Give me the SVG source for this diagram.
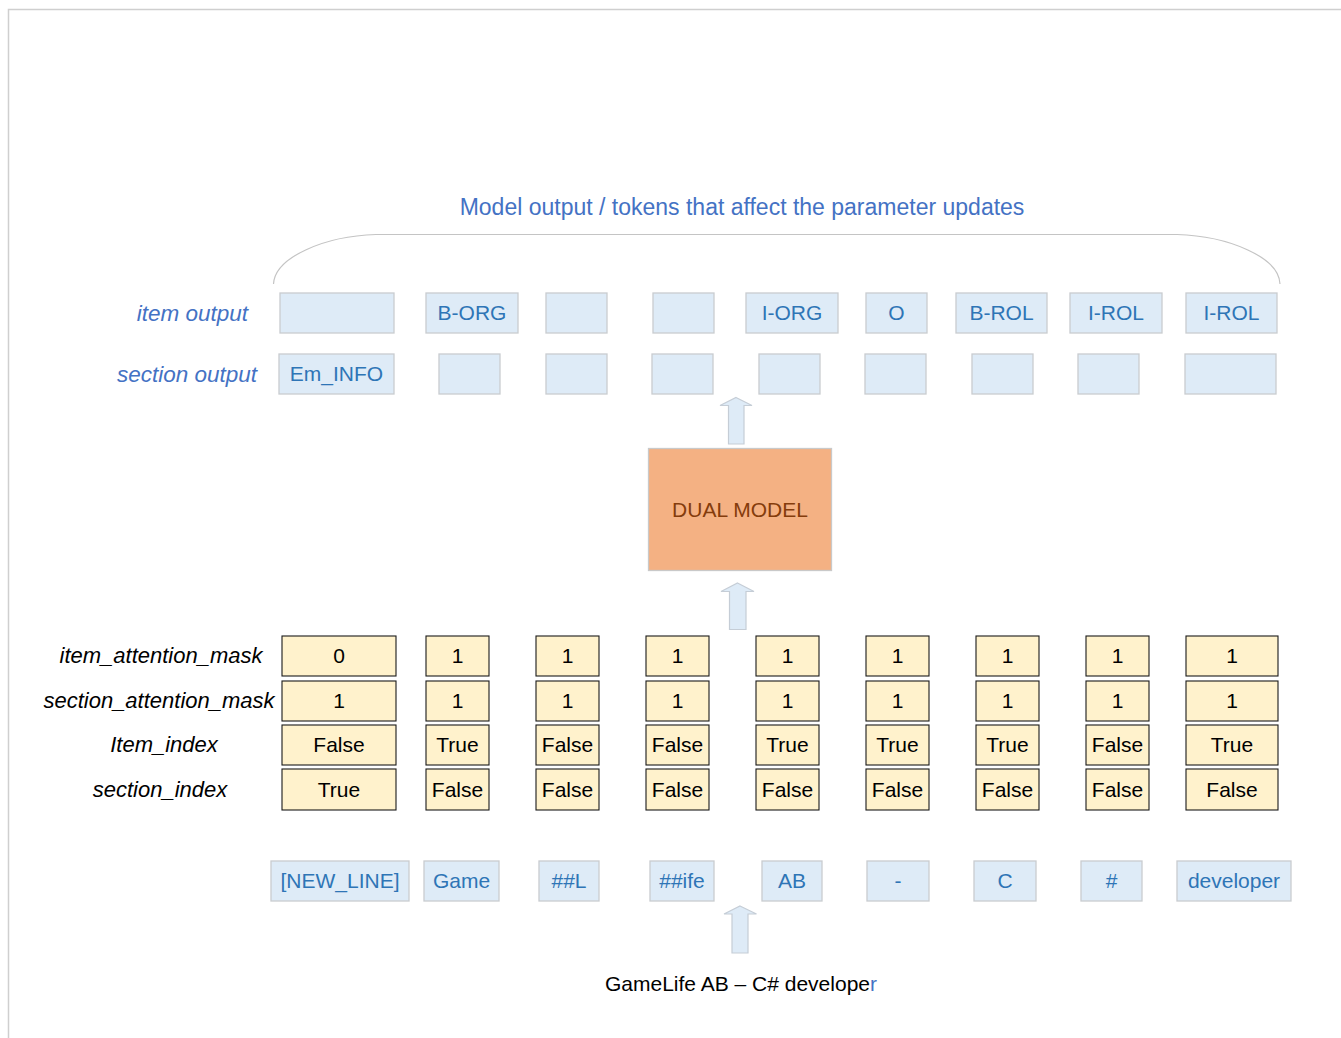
<svg xmlns="http://www.w3.org/2000/svg" width="1341" height="1038" viewBox="0 0 1341 1038">
<style>
text{font-family:"Liberation Sans",Arial,sans-serif;font-size:21px}
.title{fill:#4472C4;text-anchor:middle;font-size:23px}
.ob{fill:#DEEBF7;stroke:#C9CCD0;stroke-width:1.3}
.ot{fill:#2E75B6;text-anchor:middle}
.yb{fill:#FFF2CC;stroke:#1a1a1a;stroke-width:1.1}
.yt{fill:#000;text-anchor:middle}
.lab{fill:#000;font-style:italic;text-anchor:middle;font-size:22px}
.blab{fill:#4472C4;font-style:italic;text-anchor:end;font-size:22.5px}
.arr{fill:#DEEBF7;stroke:#C5CDD6;stroke-width:1.2}
</style>
<rect x="0" y="0" width="1341" height="1038" fill="#fff"/>
<path d="M8.5,1038 V9.5 H1341" fill="none" stroke="#CFCFCF" stroke-width="1.5"/>

<g id="title">
<text class="title" x="742" y="215">Model output / tokens that affect the parameter updates</text>
<path d="M273.5,284 C275,257 325,236 376,234.5 L1177,234.5 C1228,236 1279,257 1280,284" fill="none" stroke="#C4C4C4" stroke-width="1.2"/>
</g>

<g id="output-labels">
<text class="blab" x="248" y="321">item output</text>
<text class="blab" x="257" y="382">section output</text>
</g>

<g id="item-output">
<rect class="ob" x="280" y="293" width="114" height="40"/>
<rect class="ob" x="426" y="293" width="92" height="40"/><text class="ot" x="472" y="320">B-ORG</text>
<rect class="ob" x="546" y="293" width="61" height="40"/>
<rect class="ob" x="653" y="293" width="61" height="40"/>
<rect class="ob" x="746" y="293" width="92" height="40"/><text class="ot" x="792" y="320">I-ORG</text>
<rect class="ob" x="866" y="293" width="61" height="40"/><text class="ot" x="896.5" y="320">O</text>
<rect class="ob" x="956" y="293" width="91" height="40"/><text class="ot" x="1001.5" y="320">B-ROL</text>
<rect class="ob" x="1070" y="293" width="92" height="40"/><text class="ot" x="1116" y="320">I-ROL</text>
<rect class="ob" x="1186" y="293" width="91" height="40"/><text class="ot" x="1231.5" y="320">I-ROL</text>
</g>

<g id="section-output">
<rect class="ob" x="279" y="354" width="115" height="40"/><text class="ot" x="336.5" y="381">Em_INFO</text>
<rect class="ob" x="439" y="354" width="61" height="40"/>
<rect class="ob" x="546" y="354" width="61" height="40"/>
<rect class="ob" x="652" y="354" width="61" height="40"/>
<rect class="ob" x="759" y="354" width="61" height="40"/>
<rect class="ob" x="865" y="354" width="61" height="40"/>
<rect class="ob" x="972" y="354" width="61" height="40"/>
<rect class="ob" x="1078" y="354" width="61" height="40"/>
<rect class="ob" x="1185" y="354" width="91" height="40"/>
</g>

<g id="connectors">
<path class="arr" d="M736,397.5 L752,405.5 L744,405.5 L744,444 L728.5,444 L728.5,405.5 L720,405.5 Z"/>
<path class="arr" d="M737.5,583 L754,591.5 L746,591.5 L746,629.5 L729.5,629.5 L729.5,591.5 L721,591.5 Z"/>
<path class="arr" d="M740,906 L756.5,914 L748,914 L748,953 L732,953 L732,914 L724,914 Z"/>
</g>

<g id="dual-model">
<rect x="648.5" y="448.5" width="183" height="122" fill="#F4B183" stroke="#C9C9C9" stroke-width="1.3"/>
<text x="740" y="517" fill="#843C0C" text-anchor="middle">DUAL MODEL</text>
</g>

<g id="row-labels">
<text class="lab" x="161" y="663">item_attention_mask</text>
<text class="lab" x="159" y="708">section_attention_mask</text>
<text class="lab" x="164" y="752">Item_index</text>
<text class="lab" x="160" y="797">section_index</text>
</g>

<g id="table">
<g id="col1">
<rect class="yb" x="282" y="636" width="114" height="40"/><text class="yt" x="339" y="663">0</text>
<rect class="yb" x="282" y="681" width="114" height="40"/><text class="yt" x="339" y="708">1</text>
<rect class="yb" x="282" y="725" width="114" height="40"/><text class="yt" x="339" y="752">False</text>
<rect class="yb" x="282" y="769" width="114" height="41"/><text class="yt" x="339" y="797">True</text>
</g>
<g id="col2">
<rect class="yb" x="426" y="636" width="63" height="40"/><text class="yt" x="457.5" y="663">1</text>
<rect class="yb" x="426" y="681" width="63" height="40"/><text class="yt" x="457.5" y="708">1</text>
<rect class="yb" x="426" y="725" width="63" height="40"/><text class="yt" x="457.5" y="752">True</text>
<rect class="yb" x="426" y="769" width="63" height="41"/><text class="yt" x="457.5" y="797">False</text>
</g>
<g id="col3">
<rect class="yb" x="536" y="636" width="63" height="40"/><text class="yt" x="567.5" y="663">1</text>
<rect class="yb" x="536" y="681" width="63" height="40"/><text class="yt" x="567.5" y="708">1</text>
<rect class="yb" x="536" y="725" width="63" height="40"/><text class="yt" x="567.5" y="752">False</text>
<rect class="yb" x="536" y="769" width="63" height="41"/><text class="yt" x="567.5" y="797">False</text>
</g>
<g id="col4">
<rect class="yb" x="646" y="636" width="63" height="40"/><text class="yt" x="677.5" y="663">1</text>
<rect class="yb" x="646" y="681" width="63" height="40"/><text class="yt" x="677.5" y="708">1</text>
<rect class="yb" x="646" y="725" width="63" height="40"/><text class="yt" x="677.5" y="752">False</text>
<rect class="yb" x="646" y="769" width="63" height="41"/><text class="yt" x="677.5" y="797">False</text>
</g>
<g id="col5">
<rect class="yb" x="756" y="636" width="63" height="40"/><text class="yt" x="787.5" y="663">1</text>
<rect class="yb" x="756" y="681" width="63" height="40"/><text class="yt" x="787.5" y="708">1</text>
<rect class="yb" x="756" y="725" width="63" height="40"/><text class="yt" x="787.5" y="752">True</text>
<rect class="yb" x="756" y="769" width="63" height="41"/><text class="yt" x="787.5" y="797">False</text>
</g>
<g id="col6">
<rect class="yb" x="866" y="636" width="63" height="40"/><text class="yt" x="897.5" y="663">1</text>
<rect class="yb" x="866" y="681" width="63" height="40"/><text class="yt" x="897.5" y="708">1</text>
<rect class="yb" x="866" y="725" width="63" height="40"/><text class="yt" x="897.5" y="752">True</text>
<rect class="yb" x="866" y="769" width="63" height="41"/><text class="yt" x="897.5" y="797">False</text>
</g>
<g id="col7">
<rect class="yb" x="976" y="636" width="63" height="40"/><text class="yt" x="1007.5" y="663">1</text>
<rect class="yb" x="976" y="681" width="63" height="40"/><text class="yt" x="1007.5" y="708">1</text>
<rect class="yb" x="976" y="725" width="63" height="40"/><text class="yt" x="1007.5" y="752">True</text>
<rect class="yb" x="976" y="769" width="63" height="41"/><text class="yt" x="1007.5" y="797">False</text>
</g>
<g id="col8">
<rect class="yb" x="1086" y="636" width="63" height="40"/><text class="yt" x="1117.5" y="663">1</text>
<rect class="yb" x="1086" y="681" width="63" height="40"/><text class="yt" x="1117.5" y="708">1</text>
<rect class="yb" x="1086" y="725" width="63" height="40"/><text class="yt" x="1117.5" y="752">False</text>
<rect class="yb" x="1086" y="769" width="63" height="41"/><text class="yt" x="1117.5" y="797">False</text>
</g>
<g id="col9">
<rect class="yb" x="1186" y="636" width="92" height="40"/><text class="yt" x="1232" y="663">1</text>
<rect class="yb" x="1186" y="681" width="92" height="40"/><text class="yt" x="1232" y="708">1</text>
<rect class="yb" x="1186" y="725" width="92" height="40"/><text class="yt" x="1232" y="752">True</text>
<rect class="yb" x="1186" y="769" width="92" height="41"/><text class="yt" x="1232" y="797">False</text>
</g>
</g>

<g id="tokens">
<g id="t1"><rect class="ob" x="271" y="861" width="138" height="40"/><text class="ot" x="340" y="888">[NEW_LINE]</text></g>
<g id="t2"><rect class="ob" x="424" y="861" width="75" height="40"/><text class="ot" x="461.5" y="888">Game</text></g>
<g id="t3"><rect class="ob" x="539" y="861" width="60" height="40"/><text class="ot" x="569" y="888">##L</text></g>
<g id="t4"><rect class="ob" x="650" y="861" width="64" height="40"/><text class="ot" x="682" y="888">##ife</text></g>
<g id="t5"><rect class="ob" x="762" y="861" width="60" height="40"/><text class="ot" x="792" y="888">AB</text></g>
<g id="t6"><rect class="ob" x="867" y="861" width="62" height="40"/><text class="ot" x="898" y="888">-</text></g>
<g id="t7"><rect class="ob" x="974" y="861" width="62" height="40"/><text class="ot" x="1005" y="888">C</text></g>
<g id="t8"><rect class="ob" x="1081" y="861" width="61" height="40"/><text class="ot" x="1111.5" y="888">#</text></g>
<g id="t9"><rect class="ob" x="1177" y="861" width="114" height="40"/><text class="ot" x="1234" y="888">developer</text></g>
</g>

<g id="input-text">
<text x="741" y="991" fill="#000" text-anchor="middle">GameLife AB – C# develope<tspan fill="#4472C4">r</tspan></text>
</g>
</svg>
